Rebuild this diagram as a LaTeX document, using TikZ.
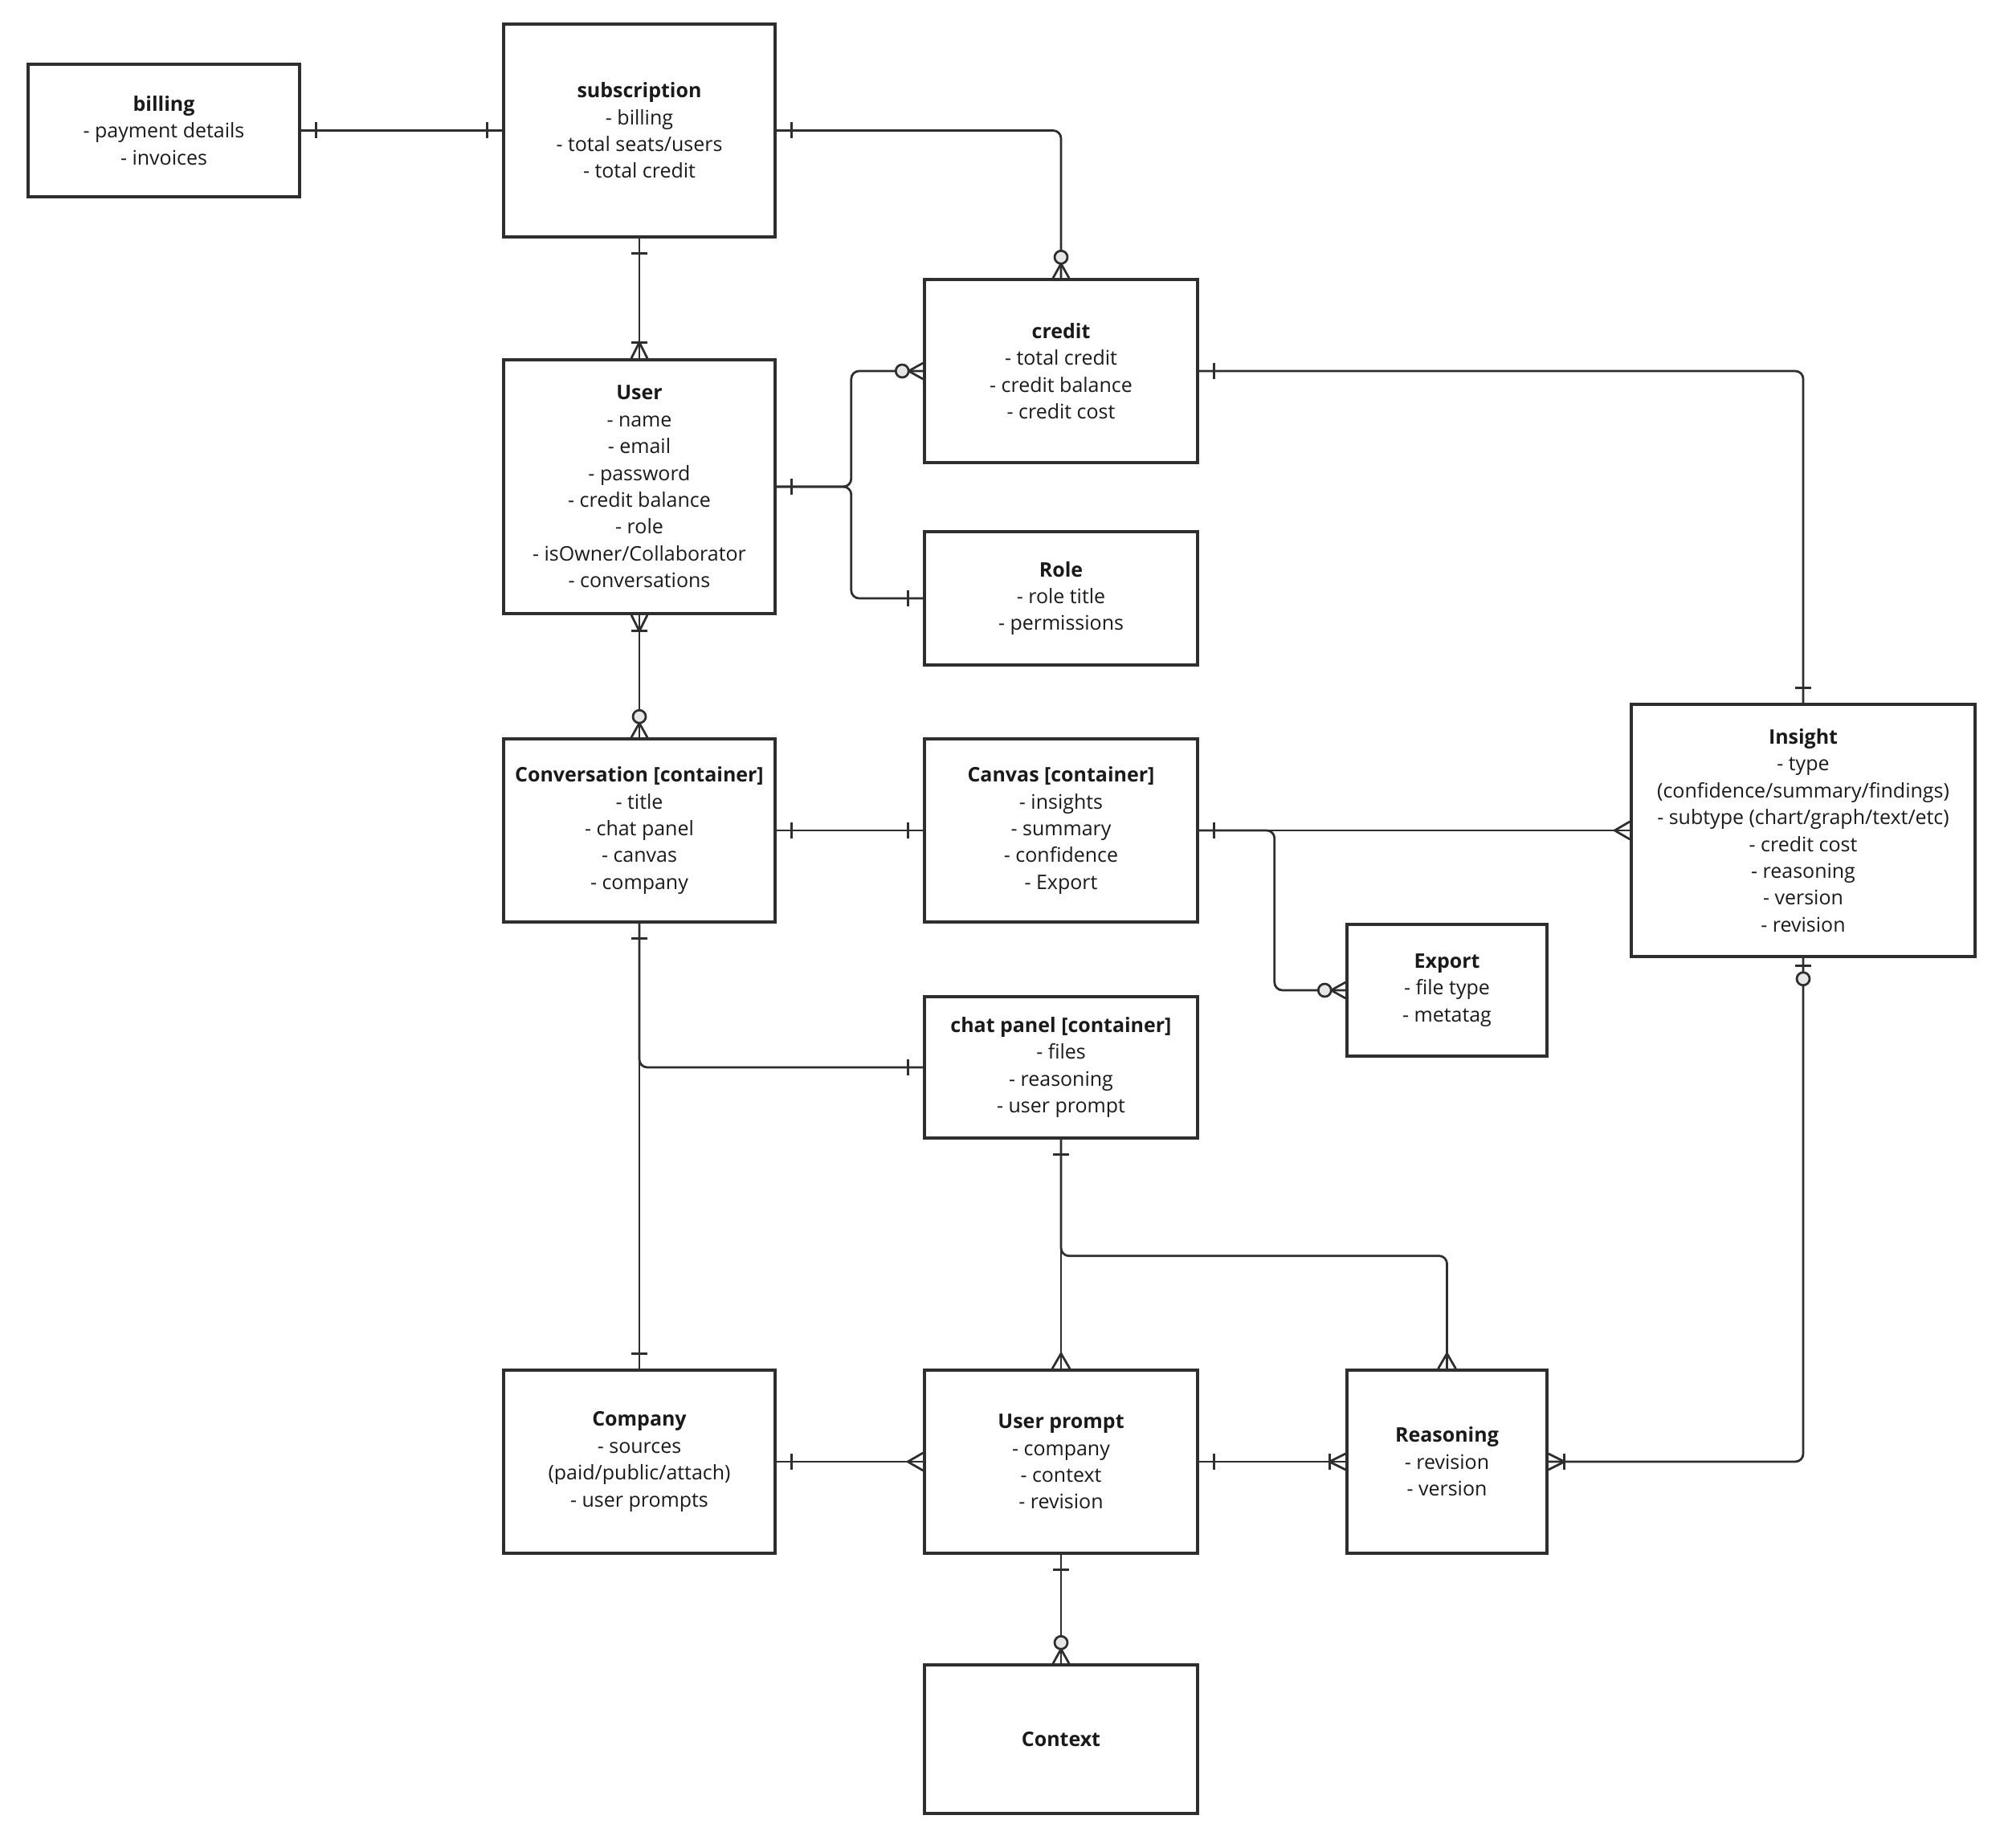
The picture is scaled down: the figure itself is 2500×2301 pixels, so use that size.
\documentclass[tikz,border=0pt]{standalone}
\usepackage{fontspec}
\setmainfont{Open Sans}
\definecolor{linec}{HTML}{2E2E2E}
\definecolor{textc}{HTML}{1A1A1A}
\definecolor{circfill}{HTML}{E6E6E6}
\begin{document}
\begin{tikzpicture}[x=0.01cm,y=-0.01cm,
  entity/.style={draw=linec, line width=0.95pt, fill=white, inner sep=0pt, align=center,
    text=textc, font=\fontsize{7.1pt}{9.5pt}\selectfont},
  conn/.style={draw=linec, line width=0.78pt},
  link/.style={conn, rounded corners=2.8pt},
  erone/.pic={\draw[conn] (19,-10) -- (19,10);},
  ermany/.pic={\draw[conn] (0,-11) -- (19,0) -- (0,11);},
  eronemany/.pic={\draw[conn] (0,-10) -- (20,0) -- (0,10); \draw[conn] (20,-10) -- (20,10);},
  erzeromany/.pic={\draw[conn] (0,-10) -- (18,0) -- (0,10); \draw[conn, fill=circfill] (26,0) circle[radius=8];},
  erzeroone/.pic={\draw[conn] (10,-10) -- (10,10); \draw[conn, fill=circfill] (26,0) circle[radius=8];}
]
\useasboundingbox (0,0) rectangle (2500,2301);
\fill[white] (0,0) rectangle (2500,2301);

% entities
\node[entity, minimum width=3.38cm, minimum height=1.65cm] (billing) at (204,162.5)
  {\textbf{billing}\\- payment details\\- invoices};
\node[entity, minimum width=3.38cm, minimum height=2.65cm] (sub) at (796,162.5)
  {\textbf{subscription}\\- billing\\- total seats/users\\- total credit};
\node[entity, minimum width=3.40cm, minimum height=2.28cm] (credit) at (1321,462)
  {\textbf{credit}\\- total credit\\- credit balance\\- credit cost};
\node[entity, minimum width=3.38cm, minimum height=3.16cm] (user) at (796,606)
  {\textbf{User}\\- name\\- email\\- password\\- credit balance\\- role\\- isOwner/Collaborator\\- conversations};
\node[entity, minimum width=3.40cm, minimum height=1.66cm] (role) at (1321,745)
  {\textbf{Role}\\- role title\\- permissions};
\node[entity, minimum width=3.38cm, minimum height=2.28cm] (conv) at (796,1034)
  {\textbf{Conversation [container]}\\- title\\- chat panel\\- canvas\\- company};
\node[entity, minimum width=3.40cm, minimum height=2.28cm] (canvas) at (1321,1034)
  {\textbf{Canvas [container]}\\- insights\\- summary\\- confidence\\- Export};
\node[entity, minimum width=4.28cm, minimum height=3.14cm] (insight) at (2245,1034)
  {\textbf{Insight}\\- type\\(confidence/summary/findings)\\- subtype (chart/graph/text/etc)\\- credit cost\\- reasoning\\- version\\- revision};
\node[entity, minimum width=2.49cm, minimum height=1.64cm] (export) at (1801.5,1233)
  {\textbf{Export}\\- file type\\- metatag};
\node[entity, minimum width=3.40cm, minimum height=1.76cm] (chat) at (1321,1329)
  {\textbf{chat panel [container]}\\- files\\- reasoning\\- user prompt};
\node[entity, minimum width=3.38cm, minimum height=2.28cm] (company) at (796,1820)
  {\textbf{Company}\\- sources\\(paid/public/attach)\\- user prompts};
\node[entity, minimum width=3.40cm, minimum height=2.28cm] (prompt) at (1321,1820)
  {\textbf{User prompt}\\- company\\- context\\- revision};
\node[entity, minimum width=2.49cm, minimum height=2.28cm] (reason) at (1801.5,1820)
  {\textbf{Reasoning}\\- revision\\- version};
\node[entity, minimum width=3.40cm, minimum height=1.85cm] (context) at (1321,2165.5)
  {\textbf{Context}};

% connectors
\draw[link] (billing.east) -- (sub.west);
\draw[link] (sub.east) -| (credit.north);
\draw[link] (sub.south) -- (user.north);
\draw[link] (user.east) -- ++(93,0) |- (credit.west);
\draw[link] (user.east) -- ++(93,0) |- (role.west);
\draw[link] (credit.east) -| (insight.north);
\draw[link] (user.south) -- (conv.north);
\draw[link] (conv.east) -- (canvas.west);
\draw[link] (canvas.east) -- (insight.west);
\draw[link] (canvas.east) -- ++(94,0) |- (export.west);
\draw[link] (conv.south) -- (company.north);
\draw[link] (conv.south) |- (chat.west);
\draw[link] (chat.south) -- (prompt.north);
\draw[link] (chat.south) -- ++(0,145) -| (reason.north);
\draw[link] (company.east) -- (prompt.west);
\draw[link] (prompt.east) -- (reason.west);
\draw[link] (insight.south) |- (reason.east);
\draw[link] (prompt.south) -- (context.north);

% ends
\pic[rotate=0] at (billing.east) {erone};
\pic[rotate=180] at (sub.west) {erone};
\pic[rotate=0] at (sub.east) {erone};
\pic[rotate=90] at (credit.north) {erzeromany};
\pic[rotate=270] at (sub.south) {erone};
\pic[rotate=90] at (user.north) {eronemany};
\pic[rotate=0] at (user.east) {erone};
\pic[rotate=180] at (credit.west) {erzeromany};
\pic[rotate=180] at (role.west) {erone};
\pic[rotate=0] at (credit.east) {erone};
\pic[rotate=90] at (insight.north) {erone};
\pic[rotate=270] at (user.south) {eronemany};
\pic[rotate=90] at (conv.north) {erzeromany};
\pic[rotate=0] at (conv.east) {erone};
\pic[rotate=180] at (canvas.west) {erone};
\pic[rotate=0] at (canvas.east) {erone};
\pic[rotate=180] at (insight.west) {ermany};
\pic[rotate=180] at (export.west) {erzeromany};
\pic[rotate=270] at (conv.south) {erone};
\pic[rotate=90] at (company.north) {erone};
\pic[rotate=180] at (chat.west) {erone};
\pic[rotate=270] at (chat.south) {erone};
\pic[rotate=90] at (prompt.north) {ermany};
\pic[rotate=90] at (reason.north) {ermany};
\pic[rotate=0] at (company.east) {erone};
\pic[rotate=180] at (prompt.west) {ermany};
\pic[rotate=0] at (prompt.east) {erone};
\pic[rotate=180] at (reason.west) {eronemany};
\pic[rotate=0] at (reason.east) {eronemany};
\pic[rotate=270] at (insight.south) {erzeroone};
\pic[rotate=270] at (prompt.south) {erone};
\pic[rotate=90] at (context.north) {erzeromany};
\end{tikzpicture}
\end{document}
